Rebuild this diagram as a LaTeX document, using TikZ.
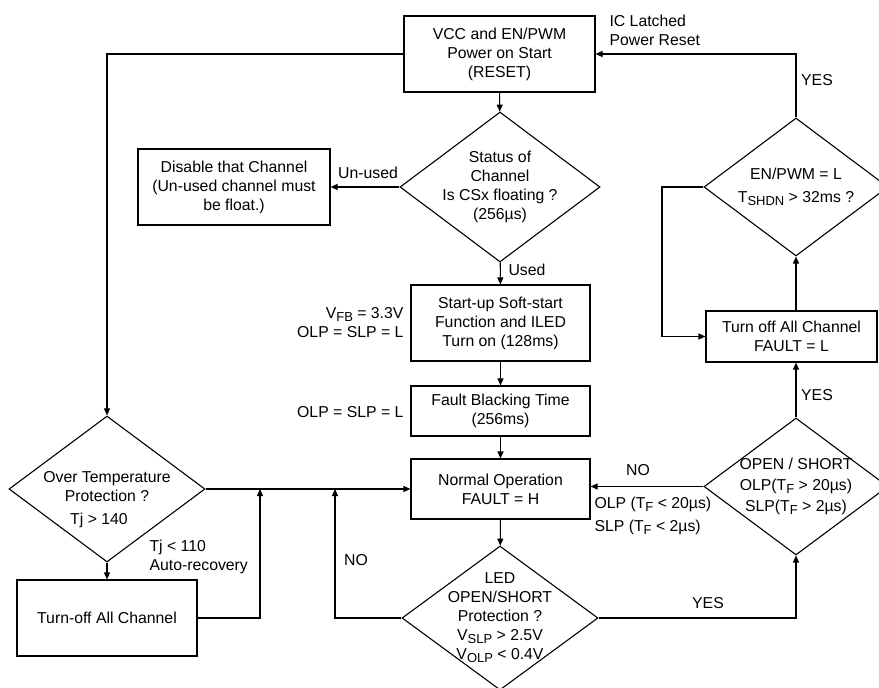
\documentclass[tikz,border=0pt]{standalone}
\usepackage{fontspec}
\setmainfont{Liberation Sans}
\usetikzlibrary{positioning, arrows.meta, shapes.geometric}
\newcommand{\lsub}[1]{\raisebox{-0.35ex}{\fontsize{13}{13}\selectfont #1}}

\begin{document}
\begin{tikzpicture}[x=1pt,y=-1pt,line width=1.1pt,
    >={Triangle[length=7pt,width=6pt]},
    every node/.style={font=\fontsize{15.8}{19}\selectfont},
    box/.style={draw,rectangle,inner sep=0pt,align=center},
    dia/.style={draw,diamond,inner sep=0pt},
    txt/.style={align=center,inner sep=0pt},
    note/.style={inner sep=0pt}]
  \useasboundingbox (0,0) rectangle (879,688);
  % main column
  \node[box,minimum width=191pt,minimum height=76pt] (reset) at (499.5,54)
    {VCC and EN/PWM\\Power on Start\\(RESET)};
  \node[dia,minimum width=200pt,minimum height=150pt,
        label={[txt]center:{Status of\\Channel\\Is CSx floating ?\\(256µs)}}] (status) at (500,187) {};
  \node[box,minimum width=192pt,minimum height=76pt] (disable) at (234,187)
    {Disable that Channel\\(Un-used channel must\\be float.)};
  \node[box,minimum width=179pt,minimum height=76pt] (soft) at (500.5,323)
    {Start-up Soft-start\\Function and ILED\\Turn on (128ms)};
  \node[box,minimum width=179pt,minimum height=50pt] (blank) at (500.5,411)
    {Fault Blacking Time\\(256ms)};
  \node[box,minimum width=179pt,minimum height=60pt] (normal) at (500.5,489)
    {Normal Operation\\FAULT = H};
  \node[dia,minimum width=196pt,minimum height=144pt,
        label={[txt]center:{LED\\OPEN/SHORT\\Protection ?\\V\lsub{SLP} > 2.5V\\V\lsub{OLP} < 0.4V}}] (led) at (500,618) {};
  % left column
  \node[dia,minimum width=196pt,minimum height=146pt,
        label={[txt,yshift=-11pt]center:{Over Temperature\\Protection ?\\[4pt]\hspace*{-16pt}Tj > 140}}] (otp) at (107,489) {};
  \node[box,minimum width=180pt,minimum height=76pt] (offall) at (107,618) {Turn-off All Channel};
  % right column
  \node[dia,minimum width=184pt,minimum height=138pt,
        label={[txt]center:{EN/PWM = L\\[4pt]T\lsub{SHDN} > 32ms ?}}] (enpwm) at (796,187) {};
  \node[box,minimum width=171pt,minimum height=51pt] (offl) at (791.5,336.5)
    {Turn off All Channel\\FAULT = L};
  \node[dia,minimum width=184pt,minimum height=137pt,
        label={[txt]center:{OPEN / SHORT\\[2pt]OLP(T\lsub{F} > 20µs)\\[2pt]SLP(T\lsub{F} > 2µs)}}] (os) at (796,486.5) {};

  % side notes
  \node[note,anchor=west,align=left] (iclatch) at (609,30) {IC Latched\\Power Reset};
  \node[note,anchor=east,align=right] (vfb) at (404,323) {V\lsub{FB} = 3.3V\\OLP = SLP = L};
  \node[note,anchor=east] (olpb) at (404,412) {OLP = SLP = L};
  \node[note,anchor=west,align=left] (tj) at (149,557) {Tj < 110\\Auto-recovery};
  \node[note] (unused) at (368,173) {Un-used};
  \node[note] (used) at (527,270) {Used};
  \node[note] (noleft) at (356,560) {NO};
  \node[note] (yesled) at (708,603) {YES};
  \node[note] (noright) at (638,470) {NO};
  \node[note,anchor=west,align=left] (tf) at (594,516) {OLP (T\lsub{F} < 20µs)\\[4pt]SLP (T\lsub{F} < 2µs)};
  \node[note] (yesos) at (817,395) {YES};
  \node[note] (yestop) at (817,80) {YES};

  \coordinate (j1) at (260,489);
  \coordinate (j2) at (335,489);
  \coordinate (k) at (662,187);

  % connectors
  \draw[->] (reset) -- (status);
  \draw[->] (status) -- (disable);
  \draw[->] (status) -- (soft);
  \draw[->] (soft) -- (blank);
  \draw[->] (blank) -- (normal);
  \draw[->] (normal) -- (led);
  \draw[->] (reset.west) -| (otp.north);
  \draw[->] (otp) -- (offall);
  \draw[->] (otp.east) -- (normal.west);
  \draw[->] (offall.east) -| (j1);
  \draw[->] (led.west) -| (j2);
  \draw[->] (led.east) -| (os.south);
  \draw[->] (os.west) -- (os.west -| normal.east);
  \draw[->] (os.north) -- (os.north |- offl.south);
  \draw[->] (enpwm.south |- offl.north) -- (enpwm.south);
  \draw[->] (enpwm.west) -- (k) |- (offl.west);
  \draw[->] (enpwm.north) |- (reset.east);
\end{tikzpicture}
\end{document}
